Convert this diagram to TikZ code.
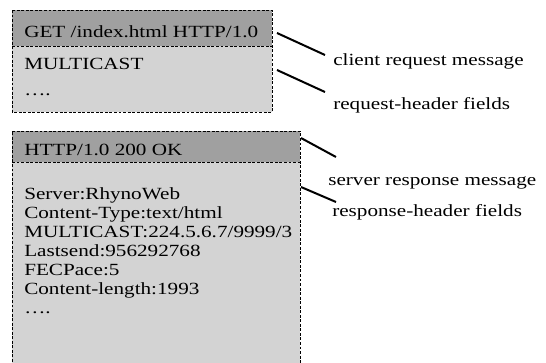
\documentclass[tikz,border=0pt]{standalone}
\usepackage{fontspec}
% Times-like face, set slightly wide
\setmainfont{Liberation Serif}[FakeStretch=1.24]
\definecolor{hdgray}{RGB}{160,160,160}
\definecolor{bodygray}{RGB}{211,211,211}
\begin{document}
\begin{tikzpicture}[x=0.75pt,y=-0.75pt,
  border/.style={draw=black, line width=0.7pt, dash pattern=on 2.2pt off 1.2pt},
  pointer/.style={draw=black, line width=1.5pt},
  txt/.style={anchor=base west, inner sep=0pt, font=\fontsize{12.8}{14.25}\selectfont},
  fields/.style={txt, align=left}]
\useasboundingbox (0,0) rectangle (546,362);
\clip (0,0) rectangle (546,362);

% request message box
\fill[bodygray] (12,10) rectangle (272,112);
\fill[hdgray] (12,10) rectangle (272,46);
\draw[border] (12,10) rectangle (272,112);
\draw[border] (12,46) -- (272,46);
\node[txt] (reqline) at (24,37) {GET /index.html HTTP/1.0};
\node[txt] (reqh1) at (24,69) {MULTICAST};
\node[txt] (reqh2) at (24,95) {\ldots.};

% response message box (runs off the bottom)
\fill[bodygray] (12,131) rectangle (300,380);
\fill[hdgray] (12,131) rectangle (300,162);
\draw[border] (12,380) -- (12,131) -- (300,131) -- (300,380);
\draw[border] (12,162) -- (300,162);
\node[txt] (resline) at (24,155) {HTTP/1.0 200 OK};
% base anchor of a multi-line node sits on its last line
\node[fields] (resh) at (24,313) {Server:RhynoWeb\\ Content-Type:text/html\\
    MULTICAST:224.5.6.7/9999/3\\ Lastsend:956292768\\ FECPace:5\\
    Content-length:1993\\ \ldots.};

% callout labels
\node[txt] (lreq) at (333,65) {client request message};
\node[txt] (lreqh) at (333,109) {request-header fields};
\node[txt] (lres) at (328,185) {server response message};
\node[txt] (lresh) at (332,216) {response-header fields};

% callout pointers
\coordinate (p1s) at (277,33);  \coordinate (p1e) at (325,55);
\coordinate (p2s) at (277,70);  \coordinate (p2e) at (325,92);
\coordinate (p3s) at (301,138); \coordinate (p3e) at (336,157);
\coordinate (p4s) at (301,187); \coordinate (p4e) at (336,202);
\draw[pointer] (p1s) -- (p1e);
\draw[pointer] (p2s) -- (p2e);
\draw[pointer] (p3s) -- (p3e);
\draw[pointer] (p4s) -- (p4e);
\end{tikzpicture}
\end{document}
